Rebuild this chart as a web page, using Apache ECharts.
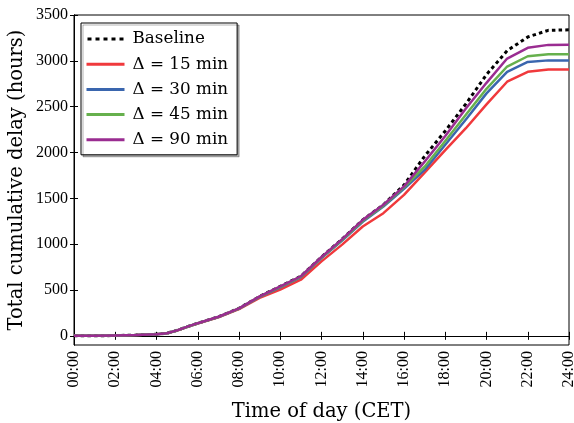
<!DOCTYPE html>
<html>
<head>
<meta charset="utf-8">
<script src="https://cdn.jsdelivr.net/npm/echarts@6/dist/echarts.min.js"></script>
<style>html,body{margin:0;padding:0;background:#fff}#c{width:574px;height:423px}</style>
</head>
<body>
<div id="c"></div>
<script>
const hours    = [0, 1, 2, 3, 4, 4.5, 5, 5.5, 6, 7, 8, 9, 10, 11, 12, 13, 14, 15, 16, 17, 18, 19, 20, 21, 22, 23, 24];
const baseline = [0, 1, 3, 8, 18, 28, 60, 100, 138, 208, 300, 430, 540, 650, 860, 1055, 1265, 1430, 1645, 1960, 2235, 2530, 2850, 3110, 3260, 3333, 3338];
const d15      = [0, 1, 3, 8, 18, 27, 58, 97, 134, 202, 292, 415, 505, 612, 812, 995, 1193, 1338, 1538, 1780, 2026, 2265, 2525, 2772, 2880, 2905, 2905];
const d30      = [0, 1, 3, 8, 18, 28, 59, 99, 136, 205, 296, 424, 530, 640, 848, 1040, 1245, 1410, 1605, 1810, 2085, 2360, 2645, 2880, 2988, 3005, 3005];
const d45      = [0, 1, 3, 8, 18, 28, 59, 99, 137, 206, 298, 427, 535, 645, 853, 1047, 1255, 1420, 1620, 1845, 2125, 2411, 2695, 2938, 3050, 3073, 3073];
const d90      = [0, 1, 3, 8, 18, 28, 60, 100, 138, 208, 300, 430, 540, 650, 860, 1055, 1265, 1430, 1630, 1900, 2180, 2480, 2760, 3025, 3142, 3174, 3175];
const yTicks   = [0, 500, 1000, 1500, 2000, 2500, 3000, 3500];
const legendNames = ['Baseline', 'Δ = 15 min', 'Δ = 30 min', 'Δ = 45 min', 'Δ = 90 min'];

const SERIF = '"Liberation Serif", serif';
const WIDE = '"DejaVu Serif", serif';
const pair = arr => hours.map((h, i) => [h, arr[i]]);
const fmtH = v => (v < 10 ? '0' : '') + v + ':00';
const DOTS = 'path://M0,0h4v3h-4zM8,0h4v3h-4zM16,0h4v3h-4zM24,0h4v3h-4zM32,0h4v3h-4z';

const mk = (name, data, color, type, width, z) => ({
  name, type: 'line', data: pair(data), symbol: 'none', smooth: false, z,
  lineStyle: { color, width, type, cap: 'butt', join: 'round' },
  itemStyle: { color }, emphasis: { disabled: true }
});

const chart = echarts.init(document.getElementById('c'), null, { renderer: 'canvas' });
chart.setOption({
  animation: false,
  backgroundColor: '#fff',
  textStyle: { fontFamily: SERIF },
  grid: { left: 74, right: 5, top: 15, bottom: 78, outerBoundsMode: 'none', containLabel: false,
          show: true, borderColor: '#000', borderWidth: 1, backgroundColor: 'transparent' },
  legend: {
    left: 81, top: 23, orient: 'vertical',
    backgroundColor: '#fff', borderColor: '#000', borderWidth: 1,
    padding: [7.5, 9, 6.5, 5.5], itemWidth: 38, itemHeight: 3, itemGap: 8.2, icon: 'rect',
    shadowColor: 'rgba(0,0,0,0.3)', shadowOffsetX: 2, shadowOffsetY: 2, shadowBlur: 0,
    textStyle: { fontFamily: WIDE, fontSize: 16.8, color: '#000', padding: [0, 0, 0, 3] },
    data: legendNames.map((n, i) => i === 0 ? { name: n, icon: DOTS } : { name: n })
  },
  xAxis: [{
    type: 'value', min: 0, max: 24, interval: 2,
    name: 'Time of day (CET)', nameLocation: 'middle', nameGap: 57, nameMoveOverlap: false,
    nameTextStyle: { fontFamily: WIDE, fontSize: 19.5, color: '#000' },
    axisLine: { show: true, lineStyle: { color: '#000', width: 1 } },
    axisTick: { show: true, inside: true, length: 4, lineStyle: { color: '#000' } },
    axisLabel: { rotate: 90, margin: 6, fontFamily: SERIF, fontSize: 16, color: '#000', formatter: fmtH, showMinLabel: true, showMaxLabel: true },
    splitLine: { show: false }
  }, {
    type: 'value', min: 0, max: 24, interval: 2, position: 'top',
    axisLine: { show: true, lineStyle: { color: '#000' } },
    axisTick: { show: true, inside: true, length: 4, lineStyle: { color: '#000' } },
    axisLabel: { show: false }, splitLine: { show: false }
  }],
  yAxis: [{
    type: 'value', min: -100, max: 3500,
    name: 'Total cumulative delay (hours)', nameLocation: 'middle', nameGap: 47, nameRotate: 90, nameMoveOverlap: false,
    nameTextStyle: { fontFamily: WIDE, fontSize: 19.5, color: '#000' },
    axisLine: { show: true, lineStyle: { color: '#000' } },
    axisTick: { show: true, inside: true, length: 4, customValues: yTicks, lineStyle: { color: '#000' } },
    axisLabel: { margin: 6, fontFamily: SERIF, fontSize: 16, color: '#000', customValues: yTicks, formatter: v => String(v) },
    splitLine: { show: false }
  }, {
    type: 'value', min: -100, max: 3500, position: 'right',
    axisLine: { show: true, lineStyle: { color: '#000' } },
    axisTick: { show: true, inside: true, length: 4, customValues: yTicks, lineStyle: { color: '#000' } },
    axisLabel: { show: false }, splitLine: { show: false }
  }],
  series: [
    mk(legendNames[0], baseline, '#000000', [3.5, 3.2], 3, 2),
    mk(legendNames[1], d15, '#f0393c', 'solid', 2.5, 3),
    mk(legendNames[2], d30, '#3a66ae', 'solid', 2.5, 4),
    mk(legendNames[3], d45, '#66b04d', 'solid', 2.5, 5),
    mk(legendNames[4], d90, '#9a2c91', 'solid', 2.5, 6)
  ]
});
</script>
</body>
</html>
